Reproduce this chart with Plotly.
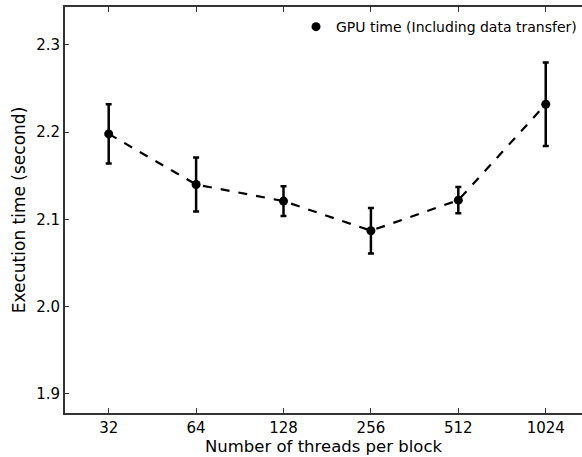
import math
import plotly.graph_objects as go

threads = [32, 64, 128, 256, 512, 1024]
tick_labels = ["32", "64", "128", "256", "512", "1024"]
gpu_time = [2.198, 2.140, 2.121, 2.087, 2.122, 2.232]
gpu_err = [0.034, 0.031, 0.017, 0.026, 0.015, 0.048]
y_ticks = [1.9, 2.0, 2.1, 2.2, 2.3]
series_name = "GPU time (Including data transfer)"

fig = go.Figure()
fig.add_trace(go.Scatter(
    x=threads, y=gpu_time,
    mode="lines+markers",
    line=dict(color="black", width=2.2, dash="dash"),
    marker=dict(color="black", size=9),
    error_y=dict(type="data", array=gpu_err, visible=True,
                 color="black", thickness=2.5, width=3),
    showlegend=False,
))
fig.add_trace(go.Scatter(
    x=[None], y=[None], mode="markers",
    marker=dict(color="black", size=9),
    name=series_name, showlegend=True,
))

font = "DejaVu Sans, Arial, sans-serif"
fig.update_layout(
    width=582, height=457,
    margin=dict(l=65, r=0, t=7, b=44),
    paper_bgcolor="white", plot_bgcolor="white",
    font=dict(family=font, size=15, color="black"),
    legend=dict(x=1.0, y=0.99, xanchor="right", yanchor="top",
                bgcolor="rgba(0,0,0,0)", borderwidth=0,
                font=dict(size=14), itemwidth=30),
)
fig.update_xaxes(
    type="log",
    range=[math.log10(2 ** 4.5), math.log10(2 ** 10.415)],
    tickvals=threads, ticktext=tick_labels,
    ticks="inside", ticklen=5, tickcolor="#333", tickwidth=1,
    showline=True, linecolor="#333", linewidth=2, mirror="allticks",
    showgrid=False, zeroline=False,
    title=dict(text="Number of threads per block", font=dict(size=16.5), standoff=2),
    tickfont=dict(size=15),
)
fig.update_yaxes(
    range=[1.878, 2.3435],
    tickvals=y_ticks, ticktext=[f"{v:.1f}" for v in y_ticks],
    ticks="inside", ticklen=4, tickcolor="#333", tickwidth=1,
    showline=True, linecolor="#333", linewidth=2, mirror=False,
    showgrid=False, zeroline=False,
    title=dict(text="Execution time (second)", font=dict(size=17), standoff=6),
    tickfont=dict(size=15),
)
fig.write_html("out.html")
